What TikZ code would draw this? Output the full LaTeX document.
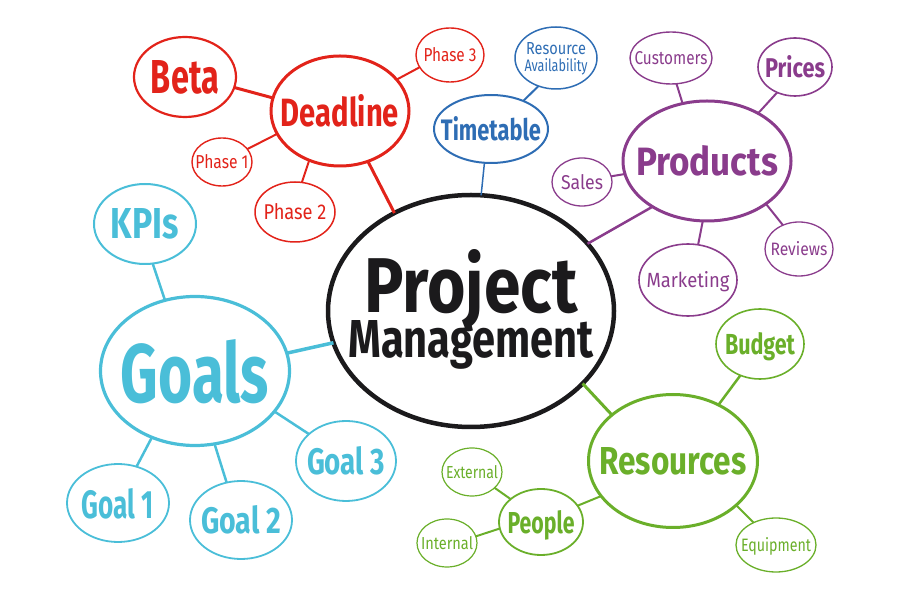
\documentclass[tikz,border=0pt]{standalone}
\usepackage{fontspec}
\setmainfont{Fira Sans}
\usepackage{graphicx}
\usetikzlibrary{shapes.geometric}
\definecolor{cred}{HTML}{E2231A}
\definecolor{cblue}{HTML}{2E6DB4}
\definecolor{cpurple}{HTML}{8A3C8C}
\definecolor{ccyan}{HTML}{4ABED8}
\definecolor{cgreen}{HTML}{6AAF2A}
\definecolor{cblack}{HTML}{1B1A1C}
\newcommand\mmtx[3]{\makebox[0pt]{\raisebox{-0.5\height}[0pt][0pt]{\resizebox{#1pt}{#2pt}{#3}}}}
\newcommand\mmtwo[8]{\makebox[0pt]{\raisebox{#8pt}[0pt][0pt]{\vbox{\offinterlineskip\halign{\hfil##\hfil\cr\raisebox{0pt}[\height][0pt]{\resizebox{#1pt}{#2pt}{#3}}\cr\noalign{\kern#4pt}\resizebox{#5pt}{#6pt}{#7}\cr}}}}}
\tikzset{
  bub/.style={ellipse, draw, inner sep=0pt, outer sep=0pt},
  R/.style={bub, draw=cred, text=cred},
  B/.style={bub, draw=cblue, text=cblue},
  P/.style={bub, draw=cpurple, text=cpurple},
  C/.style={bub, draw=ccyan, text=ccyan},
  G/.style={bub, draw=cgreen, text=cgreen},
  K/.style={bub, draw=cblack, text=cblack},
  sz/.style 2 args={minimum width=#1pt, minimum height=#2pt},
}
\begin{document}
\begin{tikzpicture}[x=1pt,y=1pt]
\useasboundingbox (0,0) rectangle (900,600);
% centre
\node[K, sz={286}{232}, line width=4.5pt] (pm) at (471,289) {\bfseries\mmtwo{213}{63}{Project}{7}{245}{37}{Management}{-46}};
% red
\node[R, sz={138}{110}, line width=3pt] (deadline) at (340,489) {\bfseries\mmtx{118}{32}{Deadline}};
\node[R, sz={102}{80}, line width=2.2pt] (beta) at (185,523) {\bfseries\mmtx{68}{33}{Beta}};
\node[R, sz={68}{54}, line width=1.4pt] (phasethree) at (450,545) {\mmtx{53}{14}{Phase 3}};
\node[R, sz={60}{48}, line width=1.4pt] (phaseone) at (222,438) {\mmtx{53}{14}{Phase 1}};
\node[R, sz={80}{60}, line width=1.5pt] (phasetwo) at (295,388) {\mmtx{63}{16}{Phase 2}};
% blue
\node[B, sz={114}{68}, line width=2pt] (timetable) at (491,471) {\bfseries\mmtx{100}{24}{Timetable}};
\node[B, sz={82}{62}, line width=1.5pt] (resavail) at (556,542) {\mmtwo{60}{12}{Resource}{4}{63}{13}{Availability}{-14}};
% purple
\node[P, sz={168}{120}, line width=3pt] (products) at (707,439) {\bfseries\mmtx{142}{30}{Products}};
\node[P, sz={82}{52}, line width=1.4pt] (customers) at (671,542) {\mmtx{73}{13}{Customers}};
\node[P, sz={74}{58}, line width=1.6pt] (prices) at (795,533) {\bfseries\mmtx{60}{22}{Prices}};
\node[P, sz={60}{48}, line width=1.3pt] (sales) at (582,418) {\mmtx{42}{15}{Sales}};
\node[P, sz={68}{54}, line width=1.3pt] (reviews) at (799,351) {\mmtx{57}{14}{Reviews}};
\node[P, sz={98}{72}, line width=1.6pt] (marketing) at (688,320) {\mmtx{83}{16}{Marketing}};
% cyan
\node[C, sz={102}{80}, line width=2pt] (kpis) at (145,376) {\bfseries\mmtx{68}{30}{KPIs}};
\node[C, sz={189}{149}, line width=3.2pt] (goals) at (195,229) {\bfseries\mmtx{148}{63}{Goals}};
\node[C, sz={100}{80}, line width=1.8pt] (goalthree) at (346,139) {\bfseries\mmtx{78}{28}{Goal 3}};
\node[C, sz={102}{78}, line width=1.8pt] (goalone) at (118,97) {\bfseries\mmtx{72}{30}{Goal 1}};
\node[C, sz={102}{78}, line width=1.8pt] (goaltwo) at (241,80) {\bfseries\mmtx{80}{28}{Goal 2}};
% green
\node[G, sz={88}{70}, line width=1.6pt] (budget) at (760,256) {\bfseries\mmtx{70}{22}{Budget}};
\node[G, sz={169}{133}, line width=3pt] (resources) at (673,139) {\bfseries\mmtx{147}{27}{Resources}};
\node[G, sz={60}{48}, line width=1.2pt] (external) at (472,128) {\mmtx{52}{13}{External}};
\node[G, sz={84}{66}, line width=1.8pt] (people) at (541,78) {\bfseries\mmtx{67}{23}{People}};
\node[G, sz={60}{48}, line width=1.2pt] (internal) at (447,57) {\mmtx{52}{13}{Internal}};
\node[G, sz={80}{54}, line width=1.3pt] (equipment) at (776,55) {\mmtx{70}{14}{Equipment}};
% connectors
\draw[cred, line width=3pt] (beta.-12) -- (deadline.169);
\draw[cred, line width=2pt] (deadline.29) -- (phasethree.202);
\draw[cred, line width=2pt] (deadline.200) -- (phaseone.27);
\draw[cred, line width=2pt] (deadline.238) -- (phasetwo.77);
\draw[cred, line width=3pt] (deadline.-61) -- (pm.128);
\draw[cblue, line width=2pt] (timetable.41) -- (resavail.238);
\draw[cblue, line width=1.5pt] (timetable.259) -- (pm.85);
\draw[cpurple, line width=2pt] (products.113) -- (customers.-78);
\draw[cpurple, line width=2pt] (products.43) -- (prices.235);
\draw[cpurple, line width=2pt] (products.189) -- (sales.11);
\draw[cpurple, line width=2pt] (products.-36) -- (reviews.124);
\draw[cpurple, line width=2pt] (products.266) -- (marketing.74);
\draw[cpurple, line width=2.5pt] (products.220) -- (pm.30);
\draw[ccyan, line width=2.5pt] (kpis.-79) -- (goals.113);
\draw[ccyan, line width=3.5pt] (goals.11) -- (pm.193);
\draw[ccyan, line width=2.5pt] (goals.237) -- (goalone.63);
\draw[ccyan, line width=2.5pt] (goals.-75) -- (goaltwo.111);
\draw[ccyan, line width=2.5pt] (goals.-27) -- (goalthree.144);
\draw[cgreen, line width=3pt] (pm.-33) -- (resources.143);
\draw[cgreen, line width=2.5pt] (resources.51) -- (budget.238);
\draw[cgreen, line width=2pt] (resources.-35) -- (equipment.135);
\draw[cgreen, line width=2pt] (resources.206) -- (people.24);
\draw[cgreen, line width=2pt] (people.143) -- (external.-35);
\draw[cgreen, line width=2pt] (people.189) -- (internal.13);
\end{tikzpicture}
\end{document}
